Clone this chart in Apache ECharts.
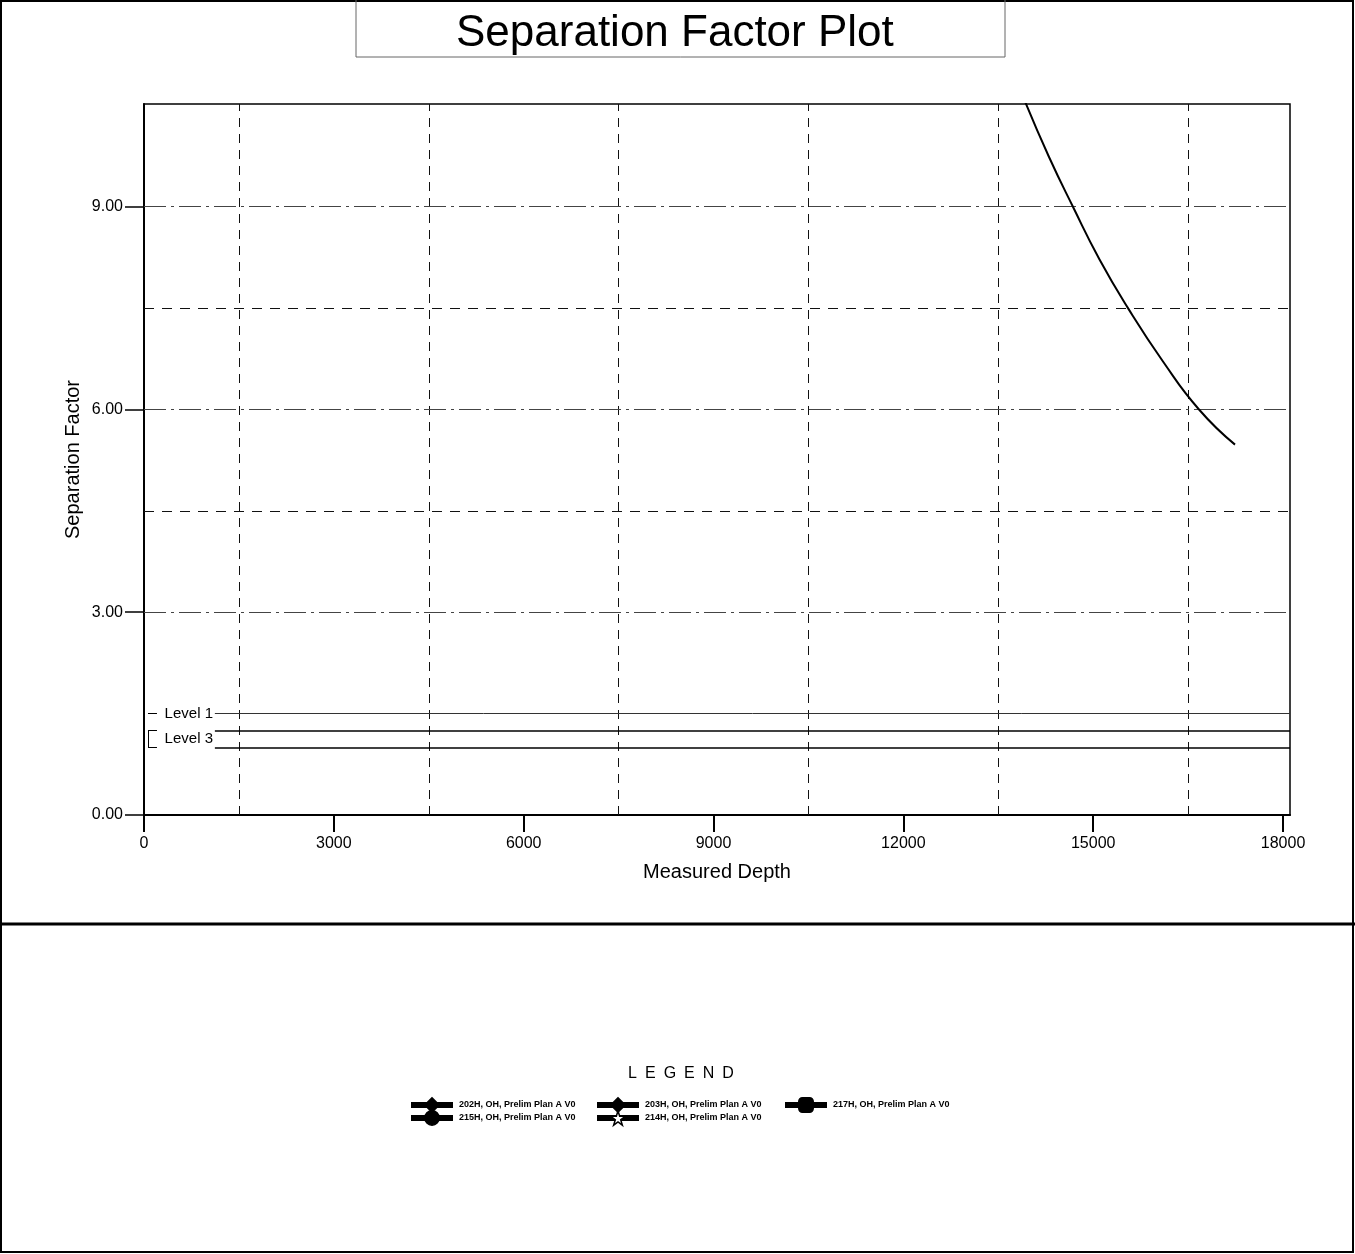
<!DOCTYPE html>
<html>
<head>
<meta charset="utf-8">
<title>Separation Factor Plot</title>
<script src="https://cdn.jsdelivr.net/npm/echarts@6/dist/echarts.min.js"></script>
<style>
  html, body { margin: 0; padding: 0; background: #fff; }
  #chart { width: 1355px; height: 1254px; }
</style>
</head>
<body>
<div id="chart"></div>
<script>
    // curve (measured depth, separation factor)
    var depth = [13930, 14300, 14680, 15100, 15550, 16103, 16672, 17241];
    var sepFactor = [10.54, 9.74, 9.0, 8.22, 7.5, 6.71, 6.0, 5.48];

    var xTicks = [0, 3000, 6000, 9000, 12000, 15000, 18000];
    var yTicks = [0, 3, 6, 9];
    var xDashed = [1500, 4500, 7500, 10500, 13500, 16500];
    var yDashed = [4.5, 7.5];
    var yDashDot = [3, 6, 9];

    // level lines and their labels
    var levelValues = [1.5, 1.25, 1.0];
    var levelLabels = ['Level 1', 'Level 3'];
    var levelLabelY = [1.5, 1.125];

    // legend entries
    var wellNames = [
        '202H, OH, Prelim Plan A V0',
        '215H, OH, Prelim Plan A V0',
        '203H, OH, Prelim Plan A V0',
        '214H, OH, Prelim Plan A V0',
        '217H, OH, Prelim Plan A V0'
    ];
    var starPath = 'path://M50,0 L61,35 L98,35 L68,57 L79,91 L50,70 L21,91 L32,57 L2,35 L39,35 Z';
    var wellSymbols = ['diamond', 'circle', 'diamond', starPath, 'roundRect'];
    var wellFill = ['#000', '#000', '#000', '#fff', '#000'];

    var xMax = 18110;
    var yMax = 10.52;

    var curveData = [];
    for (var i = 0; i < depth.length; i++) {
        curveData.push([depth[i], sepFactor[i]]);
    }

    // grid lines as mark lines (two different dash styles)
    var marks = [];
    xDashed.forEach(function (v) {
        marks.push({ xAxis: v, lineStyle: { color: '#111', width: 1, type: [9, 7] } });
    });
    yDashed.forEach(function (v) {
        marks.push({ yAxis: v, lineStyle: { color: '#111', width: 1, type: [10, 8] } });
    });
    yDashDot.forEach(function (v) {
        marks.push({ yAxis: v, lineStyle: { color: '#444', width: 1, type: [22, 5, 3, 5] } });
    });
    // level lines
    marks.push([{ coord: [1120, levelValues[0]], lineStyle: { color: '#333', width: 1, type: 'solid' } }, { coord: [xMax, levelValues[0]] }]);
    marks.push([{ coord: [1120, levelValues[1]], lineStyle: { color: '#000', width: 1.5, type: 'solid' } }, { coord: [xMax, levelValues[1]] }]);
    marks.push([{ coord: [1120, levelValues[2]], lineStyle: { color: '#000', width: 1.5, type: 'solid' } }, { coord: [xMax, levelValues[2]] }]);
    // short marks at the left edge
    marks.push([{ coord: [63, levelValues[0]], lineStyle: { color: '#000', width: 1, type: 'solid' } }, { coord: [205, levelValues[0]] }]);
    marks.push([{ coord: [63, levelValues[1]], lineStyle: { color: '#000', width: 1, type: 'solid' } }, { coord: [205, levelValues[1]] }]);
    marks.push([{ coord: [63, levelValues[2]], lineStyle: { color: '#000', width: 1, type: 'solid' } }, { coord: [205, levelValues[2]] }]);
    marks.push([{ coord: [63, levelValues[1]], lineStyle: { color: '#000', width: 1, type: 'solid' } }, { coord: [63, levelValues[2]] }]);

    var legendPos = [[408, 1097], [408, 1110], [594, 1097], [594, 1110], [782, 1097]];
    var legends = [];
    var series = [{
        type: 'line',
        data: curveData,
        smooth: true,
        showSymbol: false,
        symbol: 'none',
        clip: true,
        lineStyle: { color: '#000', width: 2 },
        z: 5,
        markLine: {
            silent: true,
            symbol: ['none', 'none'],
            label: { show: false },
            animation: false,
            data: marks
        }
    }];
    for (var k = 0; k < wellNames.length; k++) {
        series.push({
            type: 'line',
            name: wellNames[k],
            data: [],
            symbol: wellSymbols[k],
            lineStyle: { color: '#000', width: 6 },
            itemStyle: { color: wellFill[k], borderColor: '#000', borderWidth: 1 }
        });
        legends.push({
            left: legendPos[k][0],
            top: legendPos[k][1],
            padding: 0,
            itemWidth: 42,
            itemHeight: 18,
            selectedMode: false,
            data: [{
                name: wellNames[k],
                itemStyle: { color: wellFill[k], borderColor: '#000', borderWidth: 1.5 },
                lineStyle: { color: '#000', width: 6 }
            }],
            textStyle: { fontSize: 9, fontWeight: 'bold', color: '#000', padding: [0, 0, 0, 1] }
        });
    }

    var chart = echarts.init(document.getElementById('chart'));
    chart.setOption({
        animation: false,
        backgroundColor: '#fff',
        textStyle: { fontFamily: 'Liberation Sans, Arial, sans-serif', color: '#000' },
        title: {
            text: 'Separation Factor Plot',
            left: 451,
            top: 7,
            textStyle: { fontSize: 44, fontWeight: 'normal', color: '#000' }
        },
        legend: legends,
        grid: {
            left: 144,
            right: 65,
            top: 104,
            bottom: 439,
            show: true,
            borderColor: '#000',
            borderWidth: 1.5,
            backgroundColor: 'transparent'
        },
        xAxis: {
            type: 'value',
            min: 0,
            max: xMax,
            interval: 3000,
            name: 'Measured Depth',
            nameLocation: 'middle',
            nameGap: 47,
            nameMoveOverlap: false,
            nameTextStyle: { fontSize: 20, color: '#000' },
            axisLine: { lineStyle: { color: '#000', width: 2 } },
            axisTick: { show: true, length: 17, customValues: xTicks, lineStyle: { color: '#000', width: 2 } },
            axisLabel: {
                customValues: xTicks,
                fontSize: 16,
                color: '#000',
                margin: 21,
                formatter: function (v) { return String(v); }
            },
            splitLine: { show: false }
        },
        yAxis: {
            type: 'value',
            min: 0,
            max: yMax,
            interval: 3,
            name: 'Separation Factor',
            nameLocation: 'middle',
            nameGap: 61,
            nameMoveOverlap: false,
            nameTextStyle: { fontSize: 20, color: '#000' },
            axisLine: { lineStyle: { color: '#000', width: 2 } },
            axisTick: { show: true, length: 19, customValues: yTicks, lineStyle: { color: '#000', width: 1.5 } },
            axisLabel: {
                customValues: yTicks,
                fontSize: 16,
                color: '#000',
                margin: 21,
                formatter: function (v) { return v.toFixed(2); }
            },
            splitLine: { show: false }
        },
        series: series
    });

    // page frame, title box, legend heading and level labels
    var graphics = [
        { type: 'rect', shape: { x: 1, y: 1, width: 1352, height: 1251 }, style: { fill: 'none', stroke: '#000', lineWidth: 2 }, silent: true },
        { type: 'line', shape: { x1: 0, y1: 924, x2: 1355, y2: 924 }, style: { stroke: '#000', lineWidth: 3 }, silent: true },
        { type: 'rect', shape: { x: 356, y: -2, width: 649, height: 59 }, style: { fill: 'none', stroke: '#666', lineWidth: 1 }, silent: true },
        {
            type: 'text', x: 681, y: 1074,
            style: { text: 'L\u2002E\u2002G\u2002E\u2002N\u2002D', fontSize: 16, fill: '#000', align: 'center', verticalAlign: 'middle', fontFamily: 'Liberation Sans, Arial, sans-serif' }
        }
    ];
    for (var j = 0; j < levelLabels.length; j++) {
        var p = chart.convertToPixel({ xAxisIndex: 0, yAxisIndex: 0 }, [1090, levelLabelY[j]]);
        graphics.push({
            type: 'text', x: p[0], y: p[1],
            style: { text: levelLabels[j], fontSize: 15, fill: '#000', align: 'right', verticalAlign: 'middle', fontFamily: 'Liberation Sans, Arial, sans-serif', backgroundColor: '#fff' }
        });
    }
    chart.setOption({ graphic: graphics });
</script>
</body>
</html>
